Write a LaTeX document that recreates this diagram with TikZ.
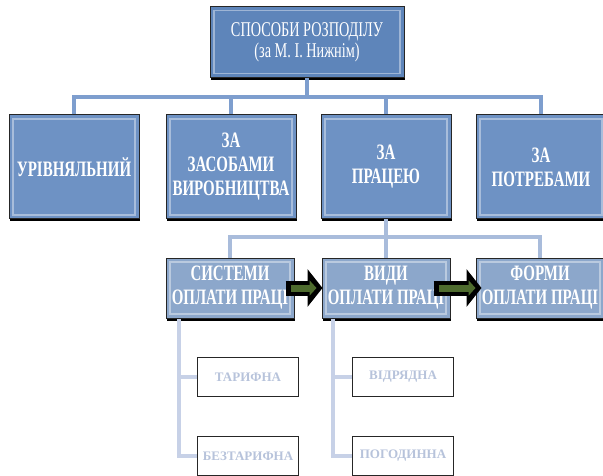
\documentclass[tikz,border=0pt]{standalone}
\usepackage{fontspec}
\setmainfont{Liberation Serif}[FakeStretch=0.68]
\newfontfamily\leaffont{Liberation Serif}
\usetikzlibrary{arrows.meta,shadows}
\definecolor{topblue}{HTML}{5E85BA}
\definecolor{midblue}{HTML}{6E92C4}
\definecolor{lowblue}{HTML}{8CA7CB}
\definecolor{linkblue}{HTML}{7E9ECE}
\definecolor{linkpale}{HTML}{A9BCDB}
\definecolor{linkfaint}{HTML}{C7D1E7}
\definecolor{shaftgreen}{HTML}{4E6B2E}
\definecolor{ghost}{HTML}{B7C3DB}
\begin{document}
\begin{tikzpicture}[x=1pt,y=-1pt,
        block/.style={draw=black!85, line width=1pt, text=white, align=center, inner sep=0pt,
            drop shadow={shadow xshift=1pt, shadow yshift=-2.5pt, fill=black, opacity=1},
            font=\bfseries\fontsize{22}{24}\selectfont,
            path picture={\draw[white, opacity=.4, line width=1.2pt]
                ([shift={(4pt,-4pt)}]path picture bounding box.north west) rectangle
                ([shift={(-4pt,4pt)}]path picture bounding box.south east);}},
        rootbox/.style={block, fill=topblue, minimum width=194pt, minimum height=71pt,
            font=\fontsize{21}{21}\selectfont},
        levelbox/.style={block, fill=midblue, minimum width=130pt, minimum height=104pt},
        wagebox/.style={block, fill=lowblue, minimum width=128pt, minimum height=60pt},
        leafbox/.style={draw=black!85, line width=1.6pt, fill=white, text=ghost,
            minimum width=101pt, minimum height=39pt, inner sep=0pt,
            font=\leaffont\bfseries\fontsize{13}{15}\selectfont},
        link/.style={linkblue, line width=4pt},
        sublink/.style={linkpale, line width=4pt},
        leaflink/.style={linkfaint, line width=4pt},
        bigarrow/.style={black, line width=15pt, -{Triangle[length=15pt,width=37pt]}},
        greenarrow/.style={shaftgreen, line width=7pt, -{Triangle[length=7pt,width=15pt]}}]
    \useasboundingbox (0,0) rectangle (603,476);
    % connectors
    \coordinate (bus) at (307,97);
    \coordinate (fork) at (386,237);
    \coordinate (sysfoot) at (179,319);
    \coordinate (kindfoot) at (333,319);
    % boxes
    \node[rootbox] (root) at (307,42) {СПОСОБИ РОЗПОДІЛУ\\(за М. І. Нижнім)};
    \node[levelbox] (equal) at (74,167) {УРІВНЯЛЬНИЙ};
    \node[levelbox] (means) at (231,167) {ЗА\\ЗАСОБАМИ\\ВИРОБНИЦТВА};
    \node[levelbox] (labour) at (386,167) {ЗА\\ПРАЦЕЮ};
    \node[levelbox] (needs) at (541,167) {ЗА\\ПОТРЕБАМИ};
    \node[wagebox] (systems) at (230,288) {СИСТЕМИ\\ОПЛАТИ ПРАЦІ};
    \node[wagebox] (kinds) at (386,288) {ВИДИ\\ОПЛАТИ ПРАЦІ};
    \node[wagebox] (forms) at (540,288) {ФОРМИ\\ОПЛАТИ ПРАЦІ};
    \node[leafbox] (tariff) at (248,377) {ТАРИФНА};
    \node[leafbox] (notariff) at (248,456) {БЕЗТАРИФНА};
    \node[leafbox] (piece) at (403,377) {ВІДРЯДНА};
    \node[leafbox] (time) at (403,456) {ПОГОДИННА};
    \draw[link] (root.south) -- (bus);
    \draw[link] (equal.north) |- (bus);
    \draw[link] (means.north) |- (bus);
    \draw[link] (labour.north) |- (bus);
    \draw[link] (needs.north) |- (bus);
    \draw[sublink] (labour.south) -- (fork);
    \draw[sublink] (systems.north) |- (fork);
    \draw[sublink] (kinds.north) -- (fork);
    \draw[sublink] (forms.north) |- (fork);
    \draw[leaflink] (sysfoot) |- (tariff.west);
    \draw[leaflink] (sysfoot) |- (notariff.west);
    \draw[leaflink] (kindfoot) |- (piece.west);
    \draw[leaflink] (kindfoot) |- (time.west);
    % arrows between the wage boxes
    \draw[bigarrow] ([xshift=-9pt]systems.east) -- ([xshift=1pt]kinds.west);
    \draw[greenarrow] ([xshift=-4pt]systems.east) -- ([xshift=-5pt]kinds.west);
    \draw[bigarrow] ([xshift=-17pt]kinds.east) -- ([xshift=6pt]forms.west);
    \draw[greenarrow] ([xshift=-12pt]kinds.east) -- ([xshift=0pt]forms.west);
\end{tikzpicture}
\end{document}
